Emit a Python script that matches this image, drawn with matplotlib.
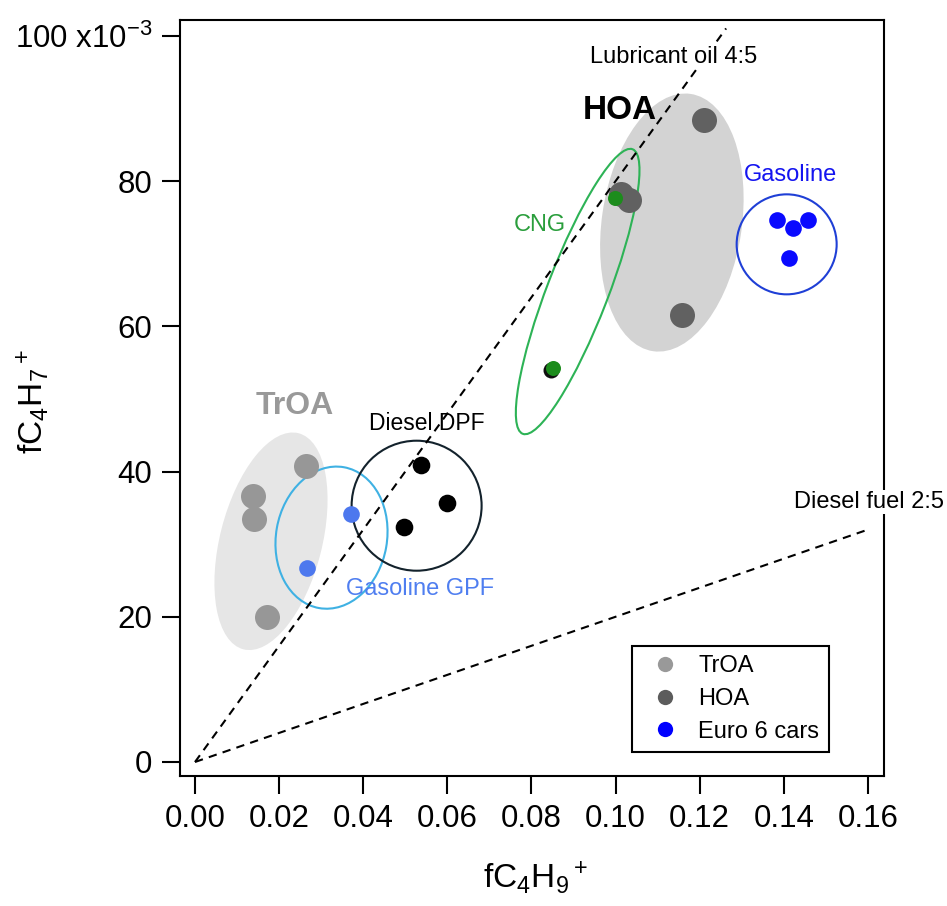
import matplotlib
matplotlib.use("Agg")
import matplotlib.pyplot as plt
from matplotlib.patches import Ellipse
from matplotlib.lines import Line2D
from matplotlib.transforms import ScaledTranslation

plt.rcParams["font.family"] = "Liberation Sans"
plt.rcParams["mathtext.fontset"] = "custom"
plt.rcParams["mathtext.rm"] = "Liberation Sans"
plt.rcParams["mathtext.it"] = "Liberation Sans:italic"
plt.rcParams["mathtext.bf"] = "Liberation Sans:bold"

# fC4H9+ on x, fC4H7+ on y (y in units of 1e-3)
troa_x = [0.0264, 0.0138, 0.0140, 0.0171]
troa_y = [40.8, 36.6, 33.5, 20.0]
hoa_x = [0.1012, 0.1032, 0.1210, 0.1158]
hoa_y = [78.3, 77.4, 88.4, 61.6]
gpf_x = [0.0371, 0.0266]
gpf_y = [34.2, 26.7]
dpf_x = [0.0537, 0.0599, 0.0497]
dpf_y = [40.9, 35.7, 32.4]
dark_x = [0.0847]
dark_y = [54.0]
cng_x = [0.0999, 0.0851]
cng_y = [77.7, 54.3]
gas_x = [0.1384, 0.1458, 0.1422, 0.1413]
gas_y = [74.7, 74.7, 73.6, 69.4]

lube_slope = 800.0     # 4:5 reference line
diesel_slope = 200.0   # diesel fuel reference line
lube_xend = 0.1263
diesel_xend = 0.160

xticks = [0.00, 0.02, 0.04, 0.06, 0.08, 0.10, 0.12, 0.14, 0.16]
xtick_labels = ["0.00", "0.02", "0.04", "0.06", "0.08", "0.10", "0.12", "0.14", "0.16"]
yticks = [0, 20, 40, 60, 80, 100]
ytick_labels = ["0", "20", "40", "60", "80", r"100 x10$^{\mathregular{-3}}$"]

fig = plt.figure(figsize=(9.47, 9.06), dpi=100)
ax = fig.add_axes([180 / 947, 130 / 906, 704 / 947, 756 / 906])
ax.set_xlim(-0.00357, 0.16385)
ax.set_ylim(-1.93, 102.2)


def blob(cx, cy, w_px, h_px, angle, **kw):
    """Ellipse centred at a data point, sized in screen pixels."""
    tr = fig.dpi_scale_trans + ScaledTranslation(cx, cy, ax.transData)
    e = Ellipse((0, 0), w_px / fig.dpi, h_px / fig.dpi, angle=angle,
                transform=tr, **kw)
    ax.add_patch(e)
    return e


# group envelopes
blob(0.01807, 30.4, 223, 102, 75.7, facecolor="#e6e6e6", edgecolor="none", zorder=1)
blob(0.1134, 74.3, 260, 140, 81.7, facecolor="#d3d3d3", edgecolor="none", zorder=1)
blob(0.03246, 30.9, 143, 111, 80, facecolor="none", edgecolor="#3fb1e3", lw=1.5, zorder=2)
blob(0.0527, 35.3, 130, 130, 0, facecolor="none", edgecolor="#13222c", lw=1.5, zorder=2)
blob(0.0910, 64.8, 305, 61, 68.9, facecolor="none", edgecolor="#2db356", lw=1.5, zorder=2)
blob(0.1407, 71.3, 100, 100, 0, facecolor="none", edgecolor="#1f3fd6", lw=1.5, zorder=2)

# reference ratio lines
dash = (0, (4, 3))
ax.plot([0, lube_xend], [0, lube_slope * lube_xend], color="black", lw=1.5,
        ls=dash, zorder=2.2)
ax.plot([0, diesel_xend], [0, diesel_slope * diesel_xend], color="black", lw=1.5,
        ls=dash, zorder=2.2)

# data points
ax.plot(troa_x, troa_y, "o", ms=18, color="#979797", mec="none", zorder=3)
ax.plot(hoa_x, hoa_y, "o", ms=18, color="#616161", mec="none", zorder=3)
ax.plot(gpf_x, gpf_y, "o", ms=12, color="#4d78ee", mec="none", zorder=3)
ax.plot(dpf_x, dpf_y, "o", ms=12.7, color="black", mec="none", zorder=3)
ax.plot(dark_x, dark_y, "o", ms=11.5, color="#101010", mec="none", zorder=3)
ax.plot(cng_x, cng_y, "o", ms=10.8, color="#1c8c1c", mec="none", zorder=3.1)
ax.plot(gas_x, gas_y, "o", ms=12, color="#0a0aff", mec="none", zorder=3)

# annotations
ax.text(0.1139, 97.1, "Lubricant oil 4:5", fontsize=17, ha="center", va="center",
        bbox=dict(facecolor="white", edgecolor="none", pad=1), zorder=2.5)
ax.text(0.1603, 35.8, "Diesel fuel 2:5", fontsize=17, ha="center", va="center",
        bbox=dict(facecolor="white", edgecolor="none", pad=1), zorder=3, clip_on=False)
ax.text(0.1011, 89.7, "HOA", fontsize=24, fontweight="bold", ha="center", va="center")
ax.text(0.0238, 49.0, "TrOA", fontsize=23, fontweight="bold", color="#999999",
        ha="center", va="center")
ax.text(0.0552, 46.6, "Diesel DPF", fontsize=16.5, ha="center", va="center")
ax.text(0.0535, 23.8, "Gasoline GPF", fontsize=17, color="#4f7ef0", ha="center", va="center")
ax.text(0.0820, 74.0, "CNG", fontsize=17, color="#2a9e3c", ha="center", va="center")
ax.text(0.1415, 80.9, "Gasoline", fontsize=17, color="#1414f0", ha="center", va="center")

# axes styling
for s in ax.spines.values():
    s.set_linewidth(1.5)
ax.set_xticks(xticks)
ax.set_xticklabels(xtick_labels)
ax.set_yticks(yticks)
ax.set_yticklabels(ytick_labels)
ax.tick_params(direction="out", length=13, width=1.5, labelsize=22.5, pad=7,
               top=False, right=False)

# axis titles
fig.text(535 / 947, 1 - 878 / 906, r"$\mathregular{fC_4H_9{}^+}$", fontsize=24,
         ha="center", va="center")
fig.text(33 / 947, 1 - 402 / 906, r"$\mathregular{fC_4H_7{}^+}$", fontsize=24,
         ha="center", va="center", rotation=90)

handles = [
    Line2D([], [], ls="", marker="o", ms=11, color="#999999", mec="none", label="TrOA"),
    Line2D([], [], ls="", marker="o", ms=11, color="#5c5c5c", mec="none", label="HOA"),
    Line2D([], [], ls="", marker="o", ms=11, color="#0000ff", mec="none", label="Euro 6 cars"),
]
leg = ax.legend(handles=handles, loc="lower left", bbox_to_anchor=(0.642, 0.0317),
                borderaxespad=0, frameon=True, fancybox=False, edgecolor="black",
                framealpha=1, fontsize=17, handlelength=2.0, handletextpad=0.4,
                borderpad=0.4, labelspacing=0.45)
leg.get_frame().set_linewidth(1.5)

fig.savefig("out.png", dpi=100)
